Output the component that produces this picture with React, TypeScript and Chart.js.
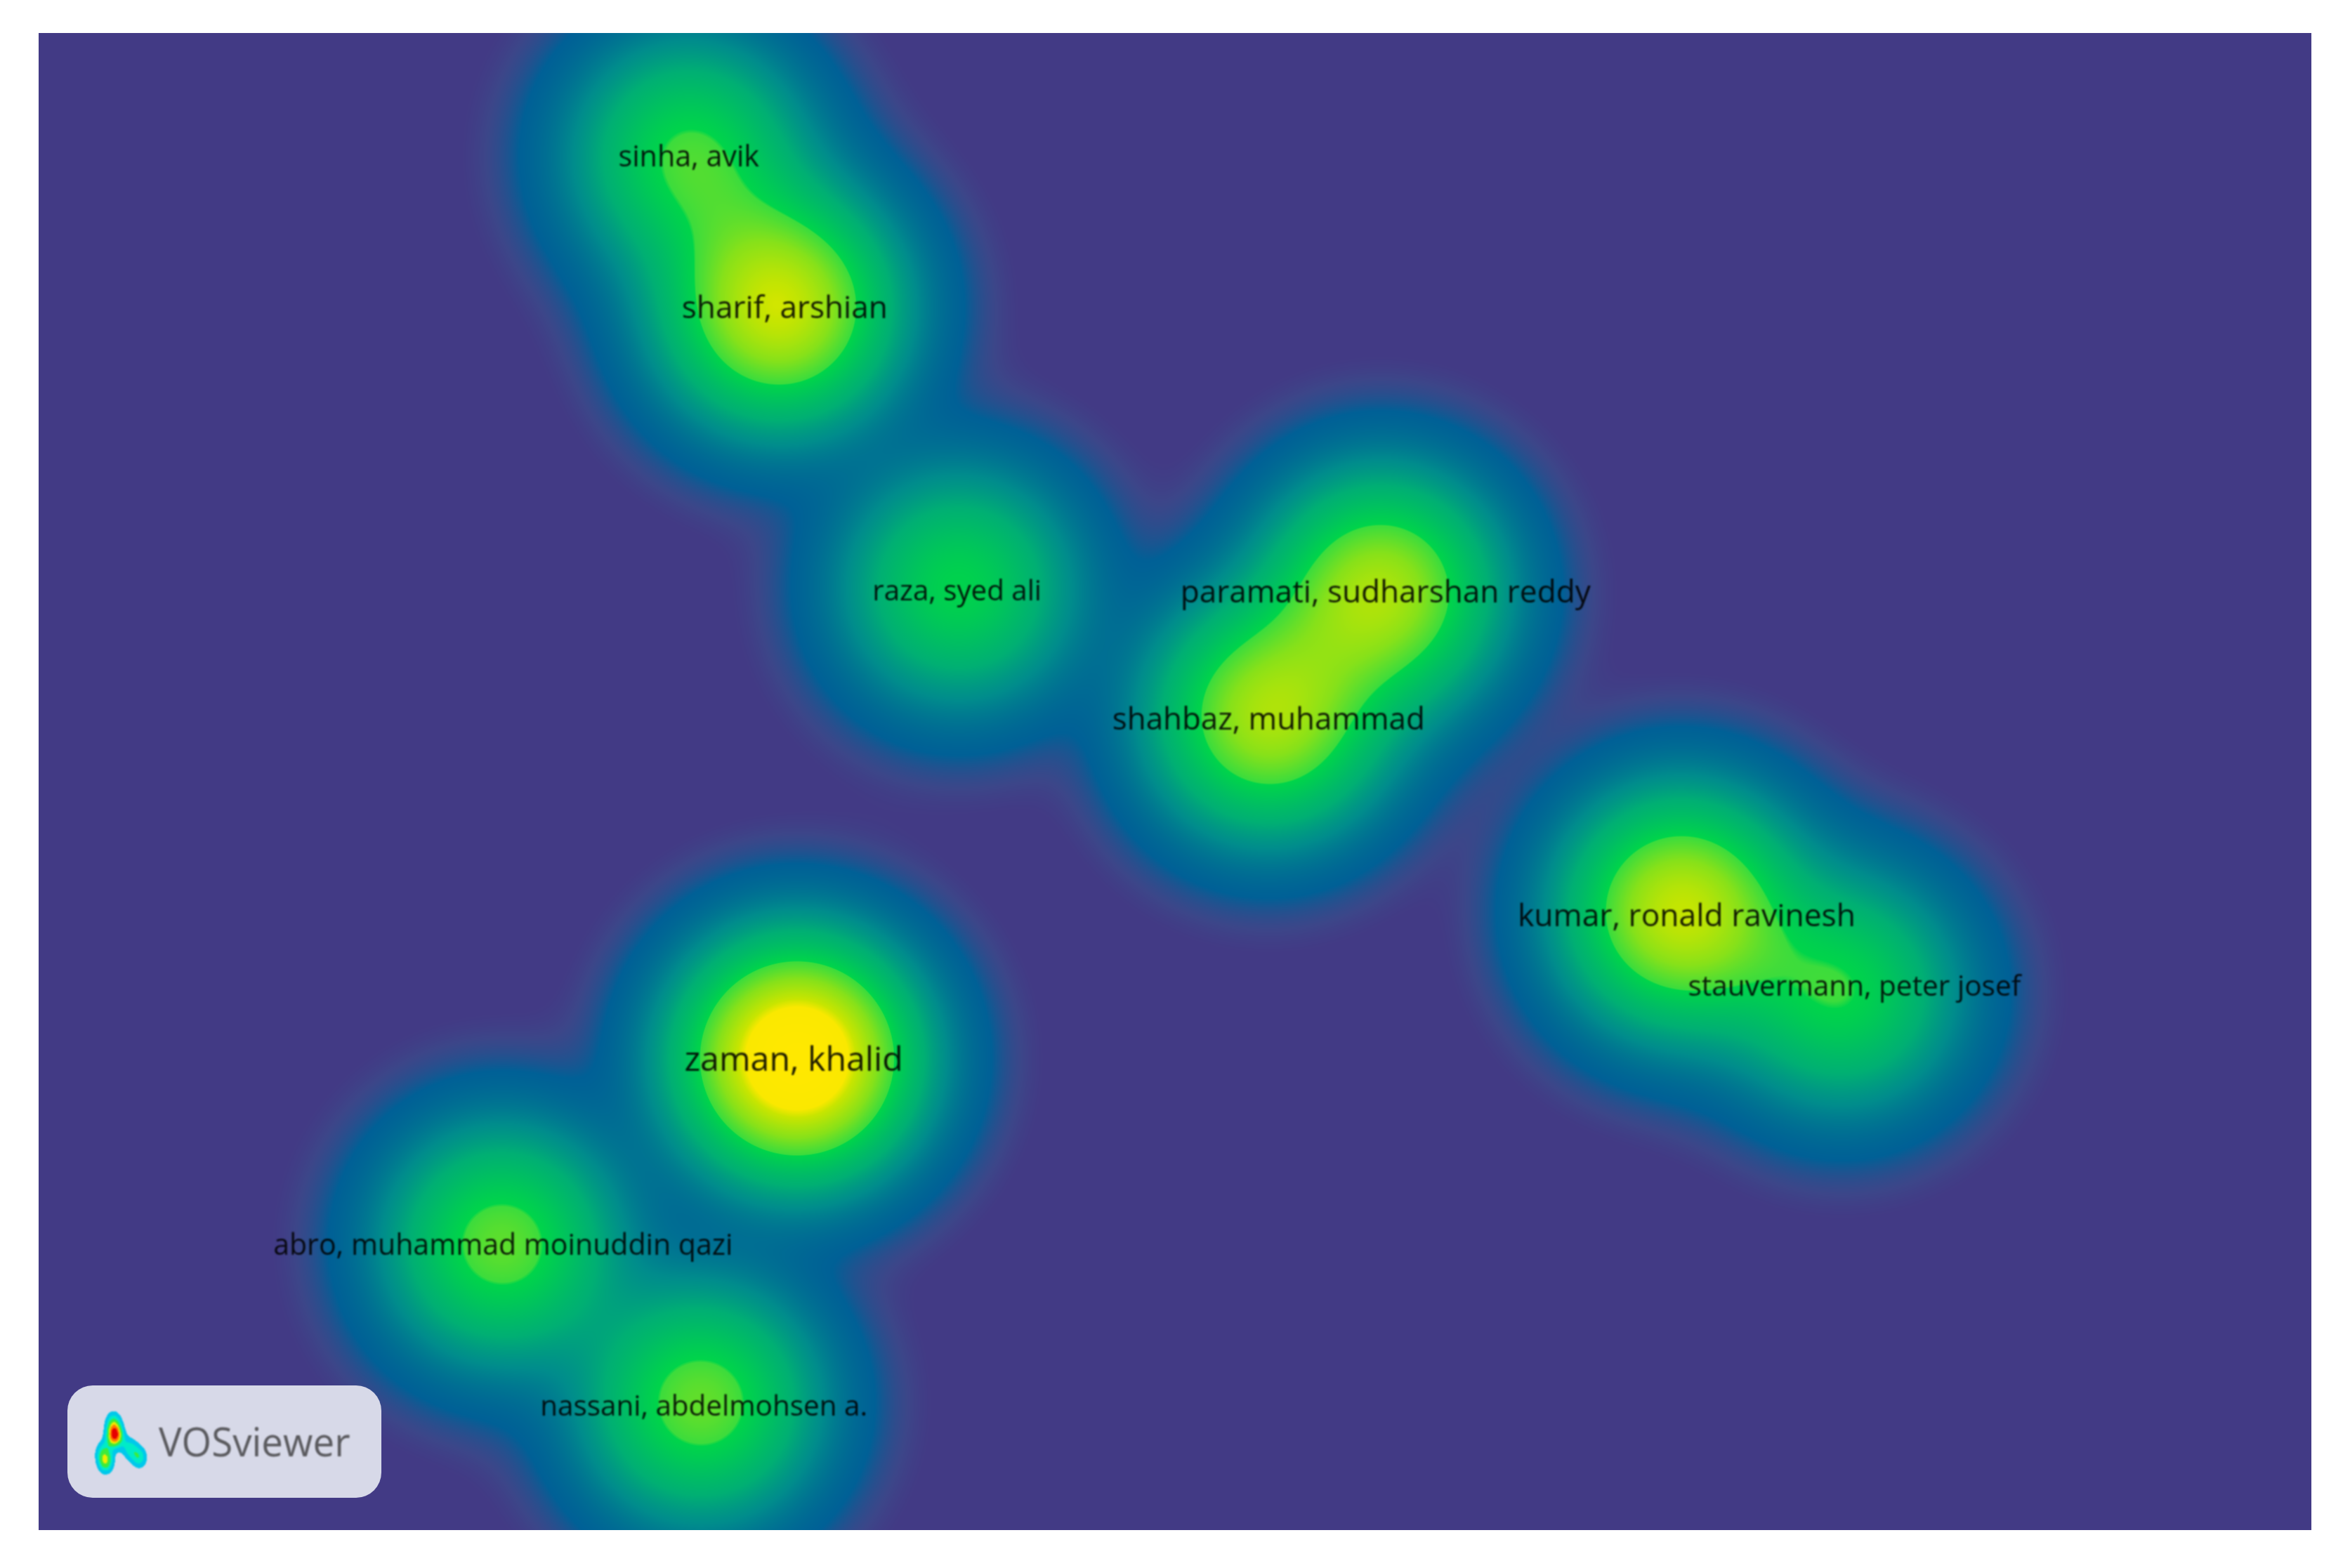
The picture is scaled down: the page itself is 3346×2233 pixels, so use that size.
import React, { useEffect, useRef } from "react";
import { Chart, registerables } from "chart.js";

Chart.register(...registerables);

// ---- data (map units: x 0..1517, y 0..999 downward) ----
const authors = [
  "sinha, avik",
  "sharif, arshian",
  "raza, syed ali",
  "paramati, sudharshan reddy",
  "shahbaz, muhammad",
  "kumar, ronald ravinesh",
  "stauvermann, peter josef",
  "zaman, khalid",
  "abro, muhammad moinuddin qazi",
  "nassani, abdelmohsen a.",
];
const peakX = [434, 494, 614, 896, 821, 1096, 1204, 506, 309, 442];
const peakY = [82, 183, 370, 373, 456, 586, 640, 684, 808, 914];
const density = [0.37, 0.68, 0.34, 0.58, 0.58, 0.66, 0.345, 1.0, 0.42, 0.43];
const labelX = [434, 498, 613, 899, 821, 1100, 1212, 504, 310, 444];
const labelY = [83.5, 184.5, 373, 374, 459, 590, 637, 686, 810, 917];
const labelPx = [31, 33.2, 30.3, 33.2, 33, 33.4, 30.5, 36.3, 30.9, 30.4];

const logoX = [163, 161, 150, 146, 184, 198];
const logoY = [2044, 2024, 2082, 2066, 2062, 2075];
const logoW = [1.0, 0.45, 0.62, 0.35, 0.42, 0.48];

const KERNEL_SIGMA = 45;
const colorLevels = [0, 0.0012, 0.0039, 0.0155, 0.085, 0.168, 0.35, 0.36, 0.5, 0.68, 0.75, 1.0];
const colorR = [66, 66, 60, 0, 0, 0, 0, 60, 135, 200, 250, 255];
const colorG = [58, 58, 70, 96, 140, 175, 212, 220, 225, 229, 232, 232];
const colorB = [133, 133, 137, 150, 140, 115, 74, 60, 25, 0, 0, 0];

function lookup(v: number): [number, number, number] {
  if (v >= 1) return [255, 232, 0];
  let i = 0;
  while (i < colorLevels.length - 2 && v > colorLevels[i + 1]) i++;
  const t = (v - colorLevels[i]) / (colorLevels[i + 1] - colorLevels[i]);
  return [
    colorR[i] + (colorR[i + 1] - colorR[i]) * t,
    colorG[i] + (colorG[i + 1] - colorG[i]) * t,
    colorB[i] + (colorB[i + 1] - colorB[i]) * t,
  ];
}

const densityPlugin = {
  id: "densityField",
  beforeDatasetsDraw(chart: any) {
    const { ctx, chartArea: a, scales } = chart;
    const x0 = Math.round(a.left);
    const y0 = Math.round(a.top);
    const w = Math.round(a.right - a.left);
    const h = Math.round(a.bottom - a.top);
    const px = peakX.map((v) => scales.x.getPixelForValue(v));
    const py = peakY.map((v) => scales.y.getPixelForValue(v));
    const sx = Math.abs(scales.x.getPixelForValue(KERNEL_SIGMA) - scales.x.getPixelForValue(0));
    const sy = Math.abs(scales.y.getPixelForValue(KERNEL_SIGMA) - scales.y.getPixelForValue(0));
    const colK = px.map((p) => {
      const r = new Float32Array(w);
      for (let i = 0; i < w; i++) {
        const d = (x0 + i - p) / sx;
        r[i] = Math.exp(-0.5 * d * d);
      }
      return r;
    });
    const img = ctx.createImageData(w, h);
    const data = img.data;
    const N = 16384;
    const lut = new Uint8ClampedArray(N * 3);
    for (let i = 0; i < N; i++) {
      const c = lookup(i / (N - 1));
      lut[i * 3] = c[0];
      lut[i * 3 + 1] = c[1];
      lut[i * 3 + 2] = c[2];
    }
    for (let j = 0; j < h; j++) {
      const rowK = py.map((p, n) => {
        const d = (y0 + j - p) / sy;
        return density[n] * Math.exp(-0.5 * d * d);
      });
      for (let i = 0; i < w; i++) {
        let v = 0;
        for (let n = 0; n < rowK.length; n++) v += rowK[n] * colK[n][i];
        const k = Math.min(N - 1, Math.round(v * (N - 1))) * 3;
        const o = (j * w + i) * 4;
        data[o] = lut[k];
        data[o + 1] = lut[k + 1];
        data[o + 2] = lut[k + 2];
        data[o + 3] = 255;
      }
    }
    ctx.putImageData(img, x0, y0);
  },
  afterDatasetsDraw(chart: any) {
    const { ctx, scales } = chart;
    ctx.save();
    ctx.filter = "blur(1.2px)";
    ctx.textAlign = "center";
    ctx.textBaseline = "middle";
    ctx.fillStyle = "rgba(0,0,0,0.88)";
    authors.forEach((name, i) => {
      ctx.font = `${labelPx[i] * 1.33}px "Open Sans"`;
      ctx.fillText(name, scales.x.getPixelForValue(labelX[i]), scales.y.getPixelForValue(labelY[i]));
    });
    ctx.restore();

    // VOSviewer badge
    ctx.save();
    ctx.fillStyle = "#d7d9e8";
    ctx.beginPath();
    ctx.roundRect(96, 1973, 447, 160, 36);
    ctx.fill();
    const bx = 128, by = 2004, bw = 96, bh = 104;
    const icon = ctx.createImageData(bw, bh);
    const stops: [number, number[]][] = [
      [0.22, [0, 200, 235]], [0.4, [0, 235, 200]], [0.55, [60, 235, 60]],
      [0.72, [240, 235, 0]], [0.85, [255, 120, 0]], [1, [230, 0, 0]],
    ];
    for (let j = 0; j < bh; j++) {
      for (let i = 0; i < bw; i++) {
        let v = 0;
        logoX.forEach((lx, n) => {
          const dx = (bx + i - lx) / 8.5;
          const dy = (by + j - logoY[n]) / 12;
          v += logoW[n] * Math.exp(-0.5 * (dx * dx + dy * dy));
        });
        const o = (j * bw + i) * 4;
        if (v < 0.22) continue;
        let c = stops[0][1];
        for (const s of stops) if (v >= s[0]) c = s[1];
        icon.data[o] = c[0];
        icon.data[o + 1] = c[1];
        icon.data[o + 2] = c[2];
        icon.data[o + 3] = 255;
      }
    }
    const off = document.createElement("canvas");
    off.width = bw;
    off.height = bh;
    off.getContext("2d")!.putImageData(icon, 0, 0);
    ctx.filter = "blur(1px)";
    ctx.drawImage(off, bx, by);
    ctx.fillStyle = "#5a5a5e";
    ctx.font = '57px "Open Sans"';
    ctx.textAlign = "left";
    ctx.textBaseline = "alphabetic";
    ctx.translate(226, 2074);
    ctx.scale(0.96, 1);
    ctx.fillText("VOSviewer", 0, 0);
    ctx.restore();
  },
};

export default function App() {
  const ref = useRef<HTMLCanvasElement | null>(null);
  useEffect(() => {
    const chart = new Chart(ref.current!, {
      type: "scatter",
      data: {
        datasets: [
          {
            label: "authors",
            data: peakX.map((x, i) => ({ x, y: peakY[i] })),
            pointRadius: 0,
          },
        ],
      },
      options: {
        animation: false,
        responsive: false,
        layout: { padding: { left: 55, right: 55, top: 47, bottom: 54 } },
        plugins: { legend: { display: false }, tooltip: { enabled: false } },
        scales: {
          x: { type: "linear", min: 0, max: 1517, display: false },
          y: { type: "linear", min: 0, max: 999, reverse: true, display: false },
        },
      },
      plugins: [densityPlugin],
    } as any);
    return () => chart.destroy();
  }, []);
  return (
    <div style={{ position: "absolute", left: 0, top: 0, width: 3346, height: 2233, background: "#fff" }}>
      <canvas ref={ref} width={3346} height={2233} style={{ display: "block" }} />
    </div>
  );
}
